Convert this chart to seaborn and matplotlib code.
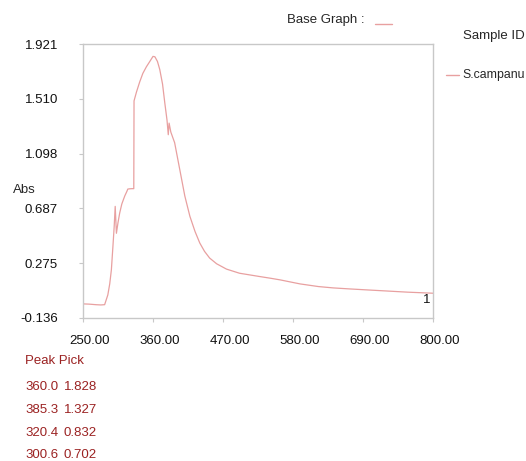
import numpy as np
import pandas as pd
import matplotlib
matplotlib.use('Agg')
import matplotlib.pyplot as plt
import matplotlib.transforms as mtransforms
import seaborn as sns

# spectrum (wavelength nm, absorbance)
wavelength = [250, 260, 270, 278, 284, 289, 292, 294.6, 297, 299, 300.6, 302.5, 305, 307.7,
              311, 315.6, 319, 320.4, 323.4, 327, 329.8, 330.2, 334, 339, 344, 349.6, 355,
              360, 363, 367, 370.6, 375, 378.5, 382, 384, 385.3, 388, 394, 402, 410, 418,
              426, 433.5, 441, 449, 460, 475.5, 496, 528, 544, 560, 591, 620,
              643, 670, 696, 730, 760, 800]
absorbance = [-0.030, -0.032, -0.036, -0.038, -0.036, 0.037, 0.12, 0.226, 0.40, 0.55, 0.702,
              0.50, 0.58, 0.653, 0.72, 0.78, 0.815, 0.832, 0.834, 0.835, 0.835, 1.494, 1.56,
              1.635, 1.70, 1.75, 1.79, 1.828, 1.825, 1.79, 1.73, 1.62, 1.48, 1.35, 1.24, 1.327,
              1.26, 1.18, 0.98, 0.78, 0.627, 0.514, 0.427, 0.364, 0.314, 0.271, 0.231, 0.20,
              0.175, 0.163, 0.15, 0.12, 0.10, 0.09, 0.082, 0.075, 0.066, 0.058, 0.05]

xticks = [250.00, 360.00, 470.00, 580.00, 690.00, 800.00]
yticks = [-0.136, 0.275, 0.687, 1.098, 1.510, 1.921]

peak_nm = ['360.0', '385.3', '320.4', '300.6']
peak_abs = ['1.828', '1.327', '0.832', '0.702']

line_color = '#e8a0a0'
text_red = '#9b2222'
grid_gray = '#c8c8c8'
fs = 9.5

df = pd.DataFrame({'nm': wavelength, 'abs': absorbance})

sns.set_style('white')
plt.rcParams['font.family'] = ['Liberation Sans', 'DejaVu Sans']

fig = plt.figure(figsize=(5.26, 4.61), dpi=100)
ax = fig.add_axes([83 / 526, 1 - 318 / 461, 350 / 526, 274 / 461])

sns.lineplot(data=df, x='nm', y='abs', ax=ax, color=line_color, linewidth=0.9)

ax.set_xlim(250, 800)
ax.set_ylim(-0.136, 1.921)
ax.set_xticks(xticks)
ax.set_yticks(yticks)
ax.set_xticklabels([f'{v:.2f}' for v in xticks])
ax.set_yticklabels([f'{v:.3f}' for v in yticks])
ax.set_xlabel('')
ax.set_ylabel('')

for s in ax.spines.values():
    s.set_color(grid_gray)
    s.set_linewidth(1.0)

ax.tick_params(axis='both', direction='out', length=3, color=grid_gray, width=0.8,
               labelsize=fs, labelcolor='#111111')
ax.tick_params(axis='y', pad=15, left=True)
ax.tick_params(axis='x', pad=9, bottom=True)

# x labels sit a little to the right of their ticks
shift = mtransforms.ScaledTranslation(7 / 100, 0, fig.dpi_scale_trans)
for lbl in ax.get_xticklabels():
    lbl.set_transform(lbl.get_transform() + shift)

ax.text(796, 0.0, '1', fontsize=fs, ha='right', va='center', color='#111111')

fig.text(13 / 526, 1 - 190 / 461, 'Abs', fontsize=fs, ha='left', va='center')

# legend-ish header
fig.text(287 / 526, 1 - 20 / 461, 'Base Graph :', fontsize=fs, ha='left', va='center')
fig.add_artist(plt.Line2D([375 / 526, 392 / 526], [1 - 24 / 461, 1 - 24 / 461],
                          color=line_color, linewidth=1.0))
fig.text(463 / 526, 1 - 36 / 461, 'Sample ID', fontsize=fs, ha='left', va='center')
fig.add_artist(plt.Line2D([446 / 526, 459 / 526], [1 - 75 / 461, 1 - 75 / 461],
                          color=line_color, linewidth=1.0))
fig.text(462 / 526, 1 - 75 / 461, 'S.campanu', fontsize=8.8, ha='left', va='center')

# peak table
fig.text(25 / 526, 1 - 361 / 461, 'Peak Pick', fontsize=fs, color=text_red, ha='left', va='center')
for i, (a, b) in enumerate(zip(peak_nm, peak_abs)):
    y = 1 - (387.5 + i * 22.6) / 461
    fig.text(25 / 526, y, a, fontsize=fs, color=text_red, ha='left', va='center')
    fig.text(64 / 526, y, b, fontsize=fs, color=text_red, ha='left', va='center')

fig.savefig('out.png', dpi=100)
